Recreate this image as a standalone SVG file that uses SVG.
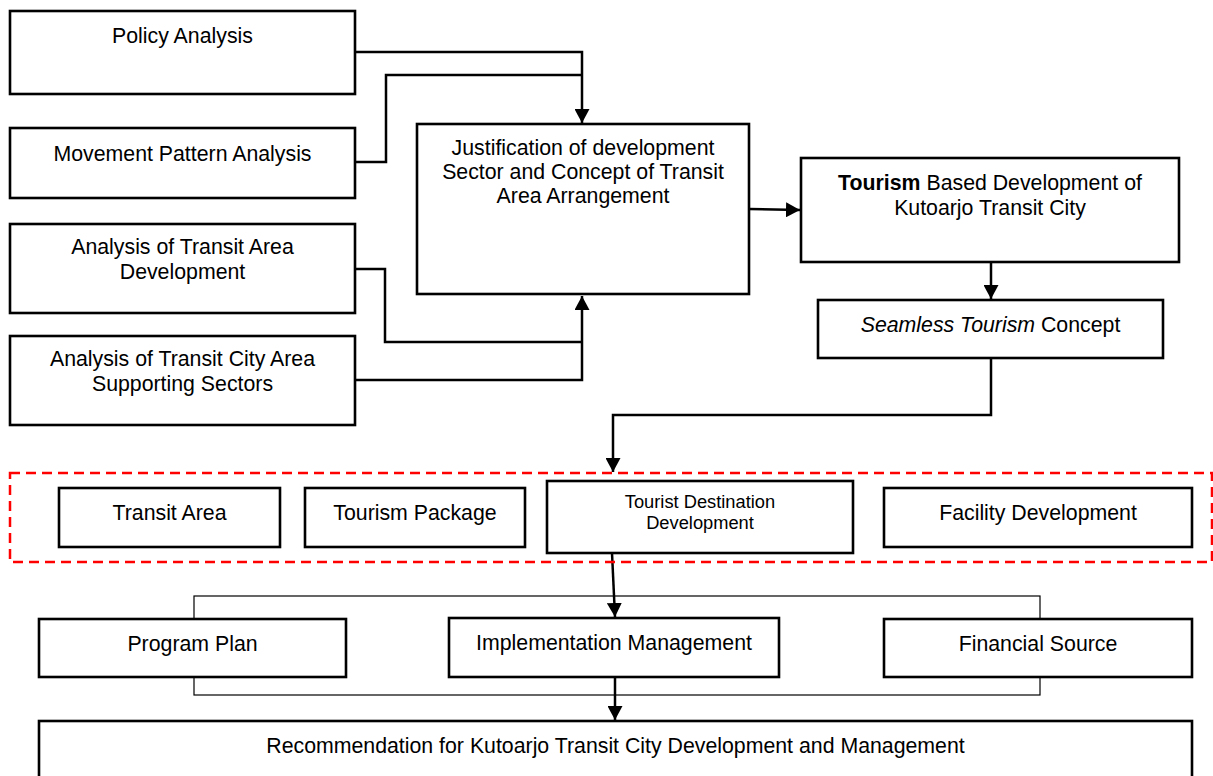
<svg xmlns="http://www.w3.org/2000/svg" width="1213" height="776" viewBox="0 0 1213 776">
<style>
.box{fill:#fff;stroke:#000;stroke-width:2.6}
.t{font-family:"Liberation Sans",Arial,sans-serif;font-size:21.3px;fill:#000;text-anchor:middle}
.ts{font-family:"Liberation Sans",Arial,sans-serif;font-size:18.3px;fill:#000;text-anchor:middle}
.c{fill:none;stroke:#000;stroke-width:2.5}
.thin{fill:none;stroke:#000;stroke-width:1.2}
.grp{fill:none;stroke:#ff0000;stroke-width:2.5;stroke-dasharray:10 6}
</style>
<defs>
<marker id="ah" markerUnits="userSpaceOnUse" markerWidth="15" markerHeight="15" refX="14" refY="7.5" orient="auto">
<path d="M0,0 L14,7.5 L0,15 z" fill="#000"/>
</marker>
</defs>
<rect width="1213" height="776" fill="#fff"/>
<g id="bracket">
<rect class="thin" x="194" y="596" width="846" height="99"/>
</g>
<g id="connectors">
<path class="c" d="M355,52 H582 V123" marker-end="url(#ah)"/>
<path class="c" d="M355,162 H386 V75 H582"/>
<path class="c" d="M355,269 H385 V342 H582"/>
<path class="c" d="M355,380 H582 V296" marker-end="url(#ah)"/>
<path class="c" d="M749,209 L800,210" marker-end="url(#ah)"/>
<path class="c" d="M991,262 V299" marker-end="url(#ah)"/>
<path class="c" d="M991,358 V415 H613 V472" marker-end="url(#ah)"/>
<path class="c" d="M612,553 L615,617" marker-end="url(#ah)"/>
<path class="c" d="M615,677 V720" marker-end="url(#ah)"/>
</g>
<g id="policy">
<rect class="box" x="10" y="11" width="345" height="83"/>
<text class="t" x="182.5" y="43">Policy Analysis</text>
</g>
<g id="movement">
<rect class="box" x="10" y="128" width="345" height="70"/>
<text class="t" x="182.5" y="161">Movement Pattern Analysis</text>
</g>
<g id="transit-area-dev">
<rect class="box" x="10" y="224" width="345" height="89"/>
<text class="t" x="182.5" y="254">Analysis of Transit Area</text>
<text class="t" x="182.5" y="279">Development</text>
</g>
<g id="transit-city">
<rect class="box" x="10" y="336" width="345" height="89"/>
<text class="t" x="182.5" y="366">Analysis of Transit City Area</text>
<text class="t" x="182.5" y="391">Supporting Sectors</text>
</g>
<g id="justification">
<rect class="box" x="417" y="124" width="332" height="170"/>
<text class="t" x="583" y="155">Justification of development</text>
<text class="t" x="583" y="179">Sector and Concept of Transit</text>
<text class="t" x="583" y="203">Area Arrangement</text>
</g>
<g id="tourism-based">
<rect class="box" x="801" y="158" width="378" height="104"/>
<text class="t" x="990" y="190"><tspan font-weight="bold">Tourism</tspan> Based Development of</text>
<text class="t" x="990" y="215">Kutoarjo Transit City</text>
</g>
<g id="seamless">
<rect class="box" x="818" y="300" width="345" height="58"/>
<text class="t" x="990.5" y="332"><tspan font-style="italic">Seamless Tourism</tspan> Concept</text>
</g>
<g id="group-box">
<rect class="grp" x="10" y="473" width="1202" height="89"/>
</g>
<g id="transit-area">
<rect class="box" x="59" y="488" width="221" height="59"/>
<text class="t" x="169.5" y="520">Transit Area</text>
</g>
<g id="tourism-package">
<rect class="box" x="305" y="488" width="220" height="59"/>
<text class="t" x="415" y="520">Tourism Package</text>
</g>
<g id="tourist-destination">
<rect class="box" x="547" y="481" width="306" height="72"/>
<text class="ts" x="700" y="508">Tourist Destination</text>
<text class="ts" x="700" y="529">Development</text>
</g>
<g id="facility">
<rect class="box" x="884" y="488" width="308" height="59"/>
<text class="t" x="1038" y="520">Facility Development</text>
</g>
<g id="program-plan">
<rect class="box" x="39" y="619" width="307" height="58"/>
<text class="t" x="192.5" y="651">Program Plan</text>
</g>
<g id="implementation">
<rect class="box" x="449" y="618" width="330" height="59"/>
<text class="t" x="614" y="650">Implementation Management</text>
</g>
<g id="financial">
<rect class="box" x="884" y="619" width="308" height="58"/>
<text class="t" x="1038" y="651">Financial Source</text>
</g>
<g id="recommendation">
<rect class="box" x="39" y="721" width="1153" height="80"/>
<text class="t" x="615.5" y="753">Recommendation for Kutoarjo Transit City Development and Management</text>
</g>
</svg>
